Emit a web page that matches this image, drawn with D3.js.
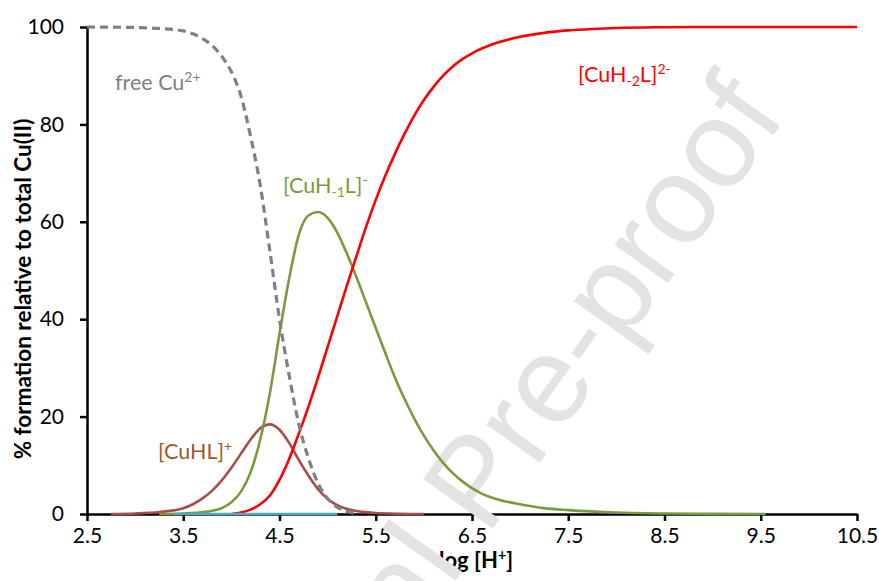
<!DOCTYPE html>
<html><head><meta charset="utf-8">
<script src="https://cdn.jsdelivr.net/npm/d3@7"></script>
<style>body{margin:0;background:#fff}svg{display:block}</style>
</head><body>
<svg id="c" width="879" height="581"></svg>
<script>
// ---- data ----
const xTicks = [2.5,3.5,4.5,5.5,6.5,7.5,8.5,9.5,10.5];
const yTicks = [0,20,40,60,80,100];

const pHFree = [2.5,3.0,3.25,3.5,3.6,3.7,3.8,3.9,4.0,4.1,4.2,4.3,4.4,4.5,4.6,4.7,4.8,4.9,5.0,5.1,5.2,5.3];
const freeCu = [100,99.9,99.7,99.2,98.6,97.6,96.2,94.0,90.8,85.8,77.5,67.5,54.0,40.0,28.5,18.5,11.5,6.3,3.2,1.4,0.5,0.1];

const pHCuHL = [2.75,3.0,3.25,3.5,3.6,3.7,3.8,3.9,4.0,4.1,4.2,4.3,4.4,4.5,4.6,4.7,4.8,4.9,5.0,5.1,5.25,5.5,5.75,6.0];
const cuHL   = [0,0.1,0.4,1.2,2.0,3.2,4.8,6.9,9.5,12.4,15.3,17.6,18.4,17.3,14.6,11.1,7.9,5.1,3.1,1.8,0.8,0.2,0.05,0];

const pHCuH1L = [3.25,3.5,3.75,3.9,4.0,4.1,4.2,4.3,4.4,4.5,4.6,4.7,4.8,4.9,5.0,5.1,5.2,5.3,5.4,5.5,5.6,5.7,5.8,5.9,6.0,6.1,6.2,6.3,6.4,6.5,6.6,6.75,7.0,7.25,7.5,8.0,8.5,9.0,9.55];
const cuH1L   = [0,0.1,0.5,1.2,2.4,4.6,8.6,15.3,24.8,37.0,48.3,57.3,61.3,62.0,60.8,57.8,53.5,48.6,43.4,38.2,33.0,28.0,23.6,19.6,16.1,13.1,10.5,8.4,6.7,5.3,4.2,3.1,2.0,1.2,0.8,0.3,0.1,0.03,0];

const pHCuH2L = [4.0,4.1,4.2,4.3,4.4,4.5,4.6,4.7,4.8,4.9,5.0,5.1,5.2,5.3,5.4,5.5,5.6,5.7,5.8,5.9,6.0,6.1,6.2,6.3,6.4,6.5,6.75,7.0,7.25,7.5,7.75,8.0,8.5,9.0,10.5];
const cuH2L   = [0,0.3,0.9,2.0,3.8,7.0,11.3,16.5,22.0,28.0,34.3,40.6,46.9,53.0,59.0,64.5,69.5,74.0,78.1,81.8,85.0,87.7,90.0,91.9,93.4,94.6,96.7,98.0,98.8,99.3,99.6,99.8,99.95,100,100];

const pHOther = [3.4,3.75,4.0,4.25,4.5,4.75,5.1];
const other   = [0,0,0,0,0,0,0];

// ---- chart ----
const svg = d3.select("#c");
const x = d3.scaleLinear().domain([2.5,10.5]).range([87,857]);
const y = d3.scaleLinear().domain([0,100]).range([514,27]);
const FONT = "Lato, 'Open Sans', sans-serif";
const LFS = 21.5;

const gx = svg.append("g").attr("transform","translate(0,514)")
  .call(d3.axisBottom(x).tickValues(xTicks).tickFormat(d3.format(".1f")).tickSize(7).tickSizeOuter(0).tickPadding(7));
const gy = svg.append("g").attr("transform","translate(87,0)")
  .call(d3.axisLeft(y).tickValues(yTicks).tickSize(7).tickSizeOuter(0).tickPadding(16));
[gx,gy].forEach(g=>{
  g.select(".domain").attr("stroke","#000").attr("stroke-width",2.5);
  g.selectAll(".tick line").attr("stroke","#000").attr("stroke-width",2.5);
  g.selectAll(".tick text").attr("fill","#000").style("font-family",FONT).style("font-size","21px");
});

function rich(sel, parts, fs){
  parts.forEach(p=>{
    const t = sel.append("tspan").text(p.t);
    if(p.s==="sup"){ t.attr("font-size",fs*0.65).attr("dy",-fs*0.36); }
    else if(p.s==="sub"){ t.attr("font-size",fs*0.65).attr("dy",fs*0.2); }
    else { t.attr("font-size",fs); if(p.back) t.attr("dy",p.back); }
  });
}

// axis titles
svg.append("text").attr("transform","translate(31,289) rotate(-90)")
  .attr("text-anchor","middle").style("font-family",FONT).style("font-weight","bold")
  .attr("font-size",22.5).attr("fill","#000").text("% formation relative to total Cu(II)");
const xt = svg.append("text").attr("x",472).attr("y",568).attr("text-anchor","middle")
  .style("font-family",FONT).style("font-weight","bold").attr("fill","#000");
rich(xt,[{t:"-log [H"},{t:"+",s:"sup"},{t:"]",back:22*0.36}],22);

// watermark
svg.append("text").attr("transform","translate(787,116) rotate(-54.5)")
  .attr("text-anchor","end")
  .style("font-family","'Liberation Sans', Arial, sans-serif").attr("font-size",124)
  .attr("fill","#e3e3e3").text("Journal Pre-proof");

// curves
const line = d3.line().x(d=>x(d[0])).y(d=>y(d[1])).curve(d3.curveMonotoneX);
const zip = (a,b)=>a.map((v,i)=>[v,b[i]]);
const series = [
  {xs:pHCuHL, ys:cuHL, color:"#A64D4D", w:2.6},
  {xs:pHCuH1L, ys:cuH1L, color:"#7A9A3F", w:2.6},
  {xs:pHCuH2L, ys:cuH2L, color:"#FF0000", w:2.6},
  {xs:pHOther, ys:other, color:"#4BACC6", w:2.6},
  {xs:pHFree, ys:freeCu, color:"#808080", w:3.2, dash:"8,5"}
];
series.forEach(s=>{
  svg.append("path").datum(zip(s.xs,s.ys)).attr("d",line).attr("fill","none")
    .attr("stroke",s.color).attr("stroke-width",s.w).attr("stroke-dasharray",s.dash||null);
});

// series labels
const labels = [
  {x:115, y:90, color:"#808080", parts:[{t:"free Cu"},{t:"2+",s:"sup"}]},
  {x:283, y:193, color:"#7A9A3F", parts:[{t:"[CuH"},{t:"-1",s:"sub"},{t:"L]",back:-LFS*0.2},{t:"-",s:"sup"}]},
  {x:578, y:82, color:"#FF0000", parts:[{t:"[CuH"},{t:"-2",s:"sub"},{t:"L]",back:-LFS*0.2},{t:"2-",s:"sup"}]},
  {x:158, y:459, color:"#A0582A", parts:[{t:"[CuHL]"},{t:"+",s:"sup"}]}
];
labels.forEach(l=>{
  const t = svg.append("text").attr("x",l.x).attr("y",l.y).attr("fill",l.color).style("font-family",FONT);
  rich(t,l.parts,LFS);
});
</script>
</body></html>
